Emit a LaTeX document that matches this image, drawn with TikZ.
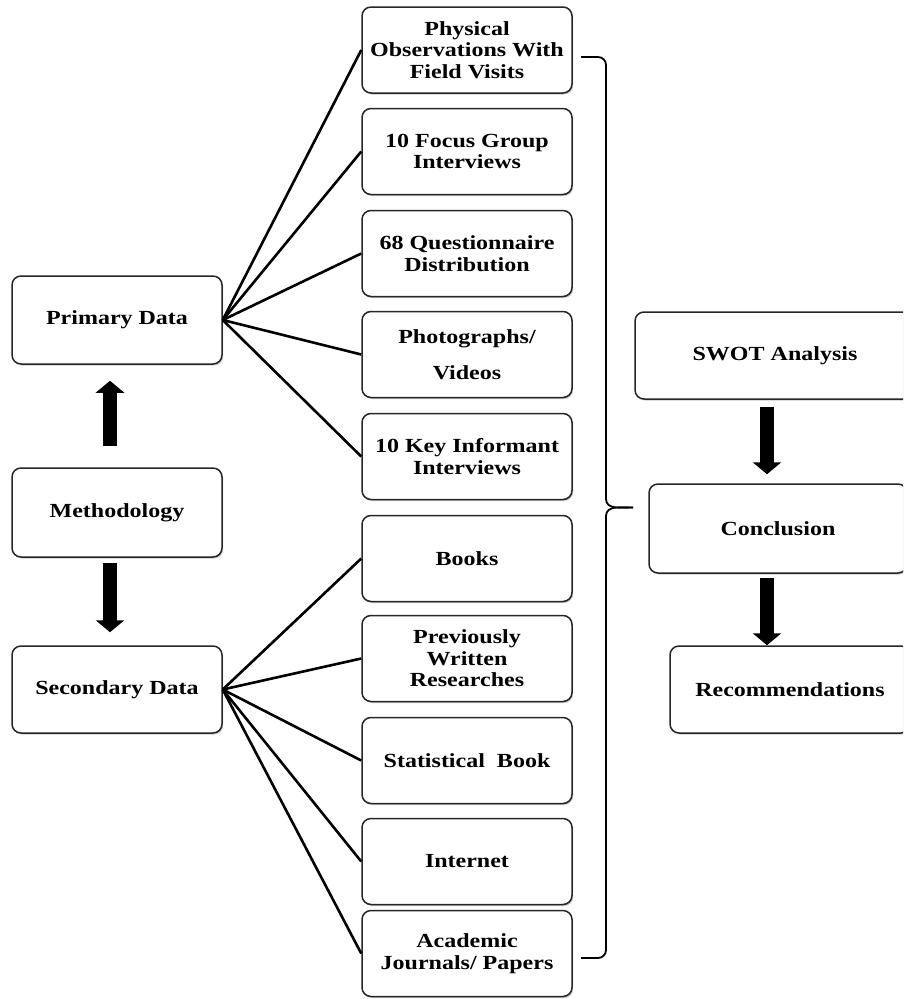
\documentclass[tikz,border=0pt]{standalone}
\usepackage{fontspec}
\setmainfont{Liberation Serif}[FakeStretch=1.2]
\usetikzlibrary{arrows.meta,shadows,calc}
\begin{document}
\begin{tikzpicture}[x=1pt,y=-1pt,
  box/.style={draw=black!85,line width=1.5pt,rounded corners=9pt,fill=white,
    align=center,inner sep=0pt,font=\bfseries\fontsize{20}{21.5}\selectfont,
    drop shadow={shadow xshift=1.2pt,shadow yshift=-1.5pt,opacity=0.35,fill=black!60}},
  lbox/.style={box,minimum width=210pt,minimum height=88pt},
  mbox/.style={box,minimum width=210pt,minimum height=86pt},
  link/.style={line width=2.6pt,black},
  bigarrow/.style={line width=14pt,-{Triangle[width=28pt,length=12pt]}},
  bracestyle/.style={line width=1.8pt,black,line join=round}]
\useasboundingbox (0,0) rectangle (903,999);
\clip (0,0) rectangle (903,999);
% left column
\node[lbox] (prim) at (117,320) {Primary Data};
\node[lbox,minimum height=89pt] (meth) at (117,512.5) {Methodology};
\node[lbox,minimum height=87pt] (sec) at (117,689.5) {Secondary Data};
% middle column
\node[mbox] (m1) at (467,50) {Physical\\Observations With\\Field Visits};
\node[mbox] (m2) at (467,151.5) {10 Focus Group\\Interviews};
\node[mbox] (m3) at (467,253.5) {68 Questionnaire\\Distribution};
\node[mbox] (m4) at (467,354.5) {Photographs/\\[15pt]Videos};
\node[mbox] (m5) at (467,456.5) {10 Key Informant\\Interviews};
\node[mbox] (m6) at (467,558.5) {Books};
\node[mbox] (m7) at (467,658.5) {Previously\\Written\\Researches};
\node[mbox] (m8) at (467,760.5) {Statistical\ \ Book};
\node[mbox] (m9) at (467,861.5) {Internet};
\node[mbox] (m10) at (467,953.5) {Academic\\Journals/ Papers};
% right column
\node[box,minimum width=280pt,minimum height=87pt] (swot) at (775,355.5) {SWOT Analysis};
\node[box,minimum width=258pt,minimum height=89pt] (conc) at (778,528.5) {Conclusion};
\node[box,minimum width=240pt,minimum height=87pt] (rec) at (790,689.5) {Recommendations};
% connectors
\foreach \m in {m1,m2,m3,m4,m5} \draw[link] (prim.east) -- (\m.west);
\foreach \m in {m6,m7,m8,m9,m10} \draw[link] (sec.east) -- (\m.west);
% block arrows
\coordinate (lx) at (110,0);
\coordinate (rx) at (767,0);
\draw[bigarrow,shorten <=21pt,shorten >=16pt] (meth.north -| lx) -- (prim.south -| lx);
\draw[bigarrow,shorten <=5pt,shorten >=13pt] (meth.south -| lx) -- (sec.north -| lx);
\draw[bigarrow,shorten <=7pt,shorten >=9pt] (swot.south -| rx) -- (conc.north -| rx);
\draw[bigarrow,shorten <=4pt,shorten >=0pt] (conc.south -| rx) -- (rec.north -| rx);
% brace
\coordinate (btop) at (581,57);
\coordinate (bbot) at (581,958);
\coordinate (btip) at (633,507.5);
\draw[bracestyle] (btop) -- (598,57) to[out=0,in=90] (606,65) -- (606,499)
  to[out=-90,in=180] (btip);
\draw[bracestyle] (bbot) -- (598,958) to[out=0,in=-90] (606,950) -- (606,516)
  to[out=90,in=180] (btip);
\end{tikzpicture}
\end{document}
